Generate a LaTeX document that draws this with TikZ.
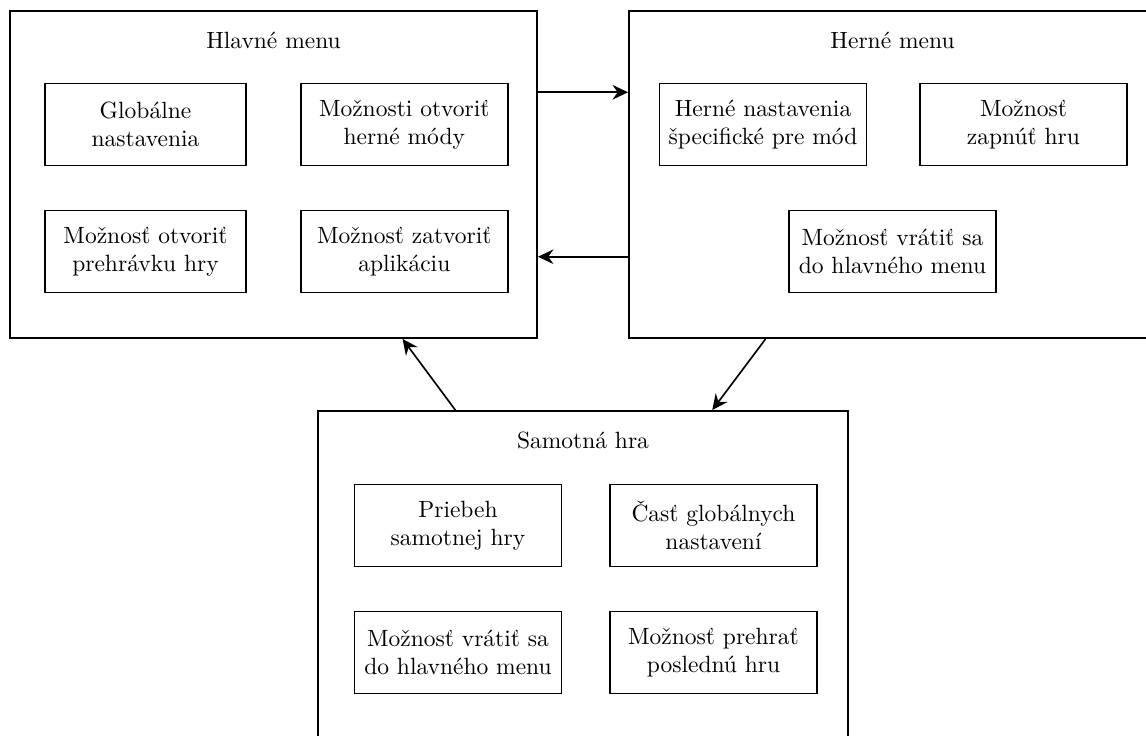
\documentclass[tikz,border=0pt]{standalone}
\usetikzlibrary{arrows.meta,calc}
\begin{document}
\begin{tikzpicture}[x=0.4255pt,y=-0.4255pt,
  frame/.style={draw,line width=0.8pt,minimum width=527*0.4255pt,minimum height=327*0.4255pt,inner sep=0pt},
  item/.style={draw,line width=0.8pt,align=center,minimum height=82*0.4255pt,inner sep=0pt},
  narrow/.style={item,minimum width=201*0.4255pt},
  wide/.style={item,minimum width=207*0.4255pt},
  title/.style={inner sep=0pt,anchor=center},
  arr/.style={-{Stealth[length=6.6pt,width=6.2pt,inset=2.2pt]},line width=0.7pt}]
\useasboundingbox (0,0) rectangle (1146,735);
\clip (0,0) rectangle (1146,735);

% main menu
\node[frame] (b1) at (273.5,174.5) {};
\node[title] (t1) at (273.5,40) {Hlavné menu};
\node[narrow] (g1) at (145.5,124.5) {Globálne\\nastavenia};
\node[wide]   (g2) at (404.3,124.5) {Možnosti otvoriť\\herné módy};
\node[narrow] (g3) at (145.5,251.5) {Možnosť otvoriť\\prehrávku hry};
\node[wide]   (g4) at (404.3,251.5) {Možnosť zatvoriť\\aplikáciu};

% game menu
\node[frame] (b2) at (892.5,174.5) {};
\node[title] (t2) at (892.5,40) {Herné menu};
\node[wide] (h1) at (763,124.5) {Herné nastavenia\\špecifické pre mód};
\node[wide] (h2) at (1023.5,124.5) {Možnosť\\zapnúť hru};
\node[wide] (h3) at (892.5,251.5) {Možnosť vrátiť sa\\do hlavného menu};

% the game itself
\node[frame,minimum width=530*0.4255pt] (b3) at (583,574.5) {};
\node[title] (t3) at (583,440) {Samotná hra};
\node[wide] (s1) at (458,525.5) {Priebeh\\samotnej hry};
\node[wide] (s2) at (713.5,525.5) {Časť globálnych\\nastavení};
\node[wide] (s3) at (458,652.5) {Možnosť vrátiť sa\\do hlavného menu};
\node[wide] (s4) at (713.5,652.5) {Možnosť prehrať\\poslednú hru};

% transitions
\draw[arr] ($(b1.north east)!0.25!(b1.south east)$) -- ($(b2.north west)!0.25!(b2.south west)$);
\draw[arr] ($(b2.north west)!0.75!(b2.south west)$) -- ($(b1.north east)!0.75!(b1.south east)$);
\draw[arr] ($(b2.south west)!0.26!(b2.south east)$) -- ($(b3.north west)!0.743!(b3.north east)$);
\draw[arr] ($(b3.north west)!0.26!(b3.north east)$) -- ($(b1.south west)!0.744!(b1.south east)$);
\end{tikzpicture}
\end{document}
